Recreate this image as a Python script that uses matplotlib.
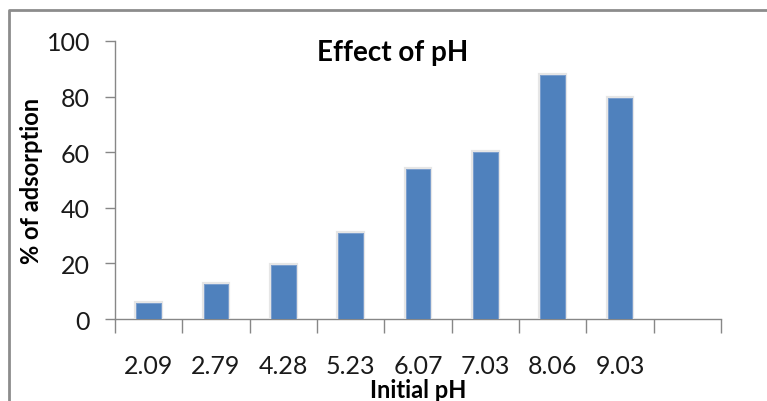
import matplotlib.pyplot as plt
import matplotlib.patheffects as pe
from matplotlib.lines import Line2D

categories = ["2.09", "2.79", "4.28", "5.23", "6.07", "7.03", "8.06", "9.03", ""]
adsorption = [5.6, 12.5, 19.4, 30.9, 54.0, 60.0, 87.7, 79.4]

plt.rcParams['font.family'] = ['Lato', 'DejaVu Sans']

fig = plt.figure(figsize=(7.67, 4.02), dpi=100)
W, H = 767, 402
ax = fig.add_axes([115 / W, 1 - 320 / H, (721 - 115) / W, (320 - 42) / H])

# chart border (top and left edges show)
fig.add_artist(Line2D([9 / W, 9 / W, 1.0], [0.0, 1 - 11 / H, 1 - 11 / H],
                      transform=fig.transFigure, color="#8c8c8c", lw=2))

shadow = [pe.withStroke(linewidth=3, foreground="#e6e6e6"), pe.Normal()]
bars = ax.bar(range(len(adsorption)), adsorption, width=0.37, color="#4F81BD",
              edgecolor="#7fa1cf", linewidth=0.6, zorder=3)
for b in bars:
    b.set_path_effects(shadow)

ax.set_xlim(-0.5, len(categories) - 0.5)
ax.set_ylim(0, 100)
ax.set_yticks(range(0, 101, 20))
ax.set_xticks([i - 0.5 for i in range(len(categories) + 1)])
ax.set_xticklabels([])
ax.set_xticks(list(range(len(categories))), labels=categories, minor=True)
ax.tick_params(axis="x", which="major", direction="out", length=10, width=1, color="#878787")
ax.tick_params(axis="x", which="minor", length=0, pad=25, labelsize=18, labelcolor="#1a1a1a")
ax.tick_params(axis="y", direction="out", length=7, width=1, color="#878787",
               labelsize=18, labelcolor="#1a1a1a", pad=11)

for s in ["top", "right"]:
    ax.spines[s].set_visible(False)
for s in ["left", "bottom"]:
    ax.spines[s].set_color("#878787")
    ax.spines[s].set_linewidth(1)

fig.text(393 / W, 1 - 53 / H, "Effect of pH", ha="center", va="center",
         fontsize=20, fontweight="bold")
ax.set_ylabel("% of adsorption", fontsize=17, fontweight="bold")
ax.yaxis.set_label_coords((43 - 115) / 606, 0.5)
fig.text(418 / W, 1 - 391 / H, "Initial pH", ha="center", va="center",
         fontsize=17, fontweight="bold")

fig.savefig("out.png", dpi=100)
